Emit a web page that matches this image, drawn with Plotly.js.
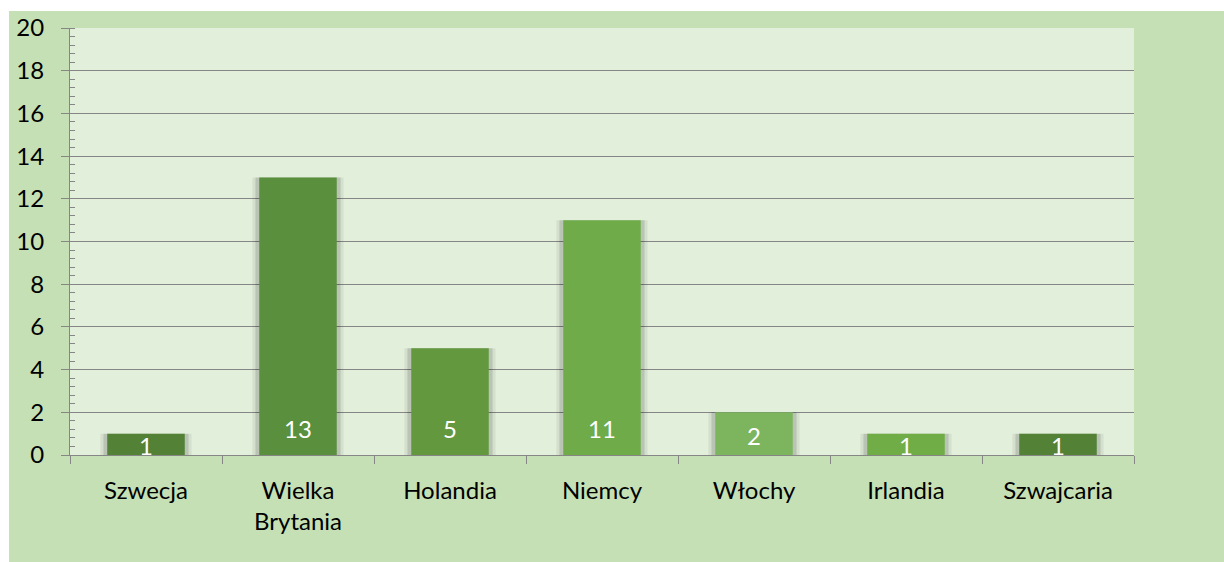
<!DOCTYPE html>
<html>
<head>
<meta charset="utf-8">
<script src="https://cdn.plot.ly/plotly-3.0.1.min.js"></script>
<style>
  html, body { margin: 0; padding: 0; background: #ffffff; }
  #chart { width: 1224px; height: 562px; }
</style>
</head>
<body>
<div id="chart"></div>
<script>
const countries = ["Szwecja", "Wielka<br>Brytania", "Holandia", "Niemcy", "Włochy", "Irlandia", "Szwajcaria"];
const counts = [1, 13, 5, 11, 2, 1, 1];
const barColors = ["#538135", "#5a8f3d", "#64983f", "#6fab49", "#7db45e", "#70ad47", "#538135"];
const yTicks = [0, 2, 4, 6, 8, 10, 12, 14, 16, 18, 20];

const font = "Lato, 'Open Sans', sans-serif";
const axisGray = "#868686";

// soft shadow behind each bar
const shadowOuter = {
    x: countries, y: counts, type: "bar", width: 0.6,
    marker: { color: "rgba(0,0,0,0.06)" }, hoverinfo: "skip"
};
const shadowInner = {
    x: countries, y: counts, type: "bar", width: 0.56,
    marker: { color: "rgba(0,0,0,0.12)" }, hoverinfo: "skip"
};
const bars = {
    x: countries, y: counts, type: "bar", width: 0.51,
    marker: { color: barColors },
    hovertemplate: "%{x}: %{y}<extra></extra>"
};

// labels sit near the bar base, like Excel's "inside base"
const labels = countries.map((c, i) => ({
    x: c, y: 0, xref: "x", yref: "y",
    text: String(counts[i]),
    showarrow: false,
    yanchor: "middle",
    yshift: Math.min(27, counts[i] * 10),
    font: { family: font, size: 24, color: "#ffffff" }
}));

const layout = {
    width: 1224, height: 562,
    margin: { l: 70, r: 90, t: 28, b: 107 },
    paper_bgcolor: "#c5e0b4",
    plot_bgcolor: "#e2efda",
    barmode: "overlay",
    showlegend: false,
    font: { family: font, size: 24, color: "#000000" },
    xaxis: {
        type: "category",
        tickson: "boundaries",
        ticks: "outside", ticklen: 8, tickcolor: axisGray,
        showline: true, linecolor: axisGray, linewidth: 1,
        showgrid: false,
        ticklabelstandoff: 14,
        tickfont: { family: font, size: 24, color: "#000000" }
    },
    yaxis: {
        range: [0, 20],
        tickvals: yTicks,
        ticks: "outside", ticklen: 8, tickcolor: axisGray,
        showline: true, linecolor: axisGray, linewidth: 1,
        showgrid: true, gridcolor: axisGray, gridwidth: 1,
        zeroline: false,
        ticklabelstandoff: 12,
        tickfont: { family: font, size: 24, color: "#000000" },
        minor: { dtick: 0.4, ticks: "inside", ticklen: 5, tickcolor: axisGray, showgrid: false }
    },
    shapes: [
        // white strip along the top and left edge, outside the green chart box
        { type: "rect", xref: "paper", yref: "paper", x0: -0.1, x1: 1.2, y0: 1.04, y1: 1.2,
          fillcolor: "#ffffff", line: { width: 0 }, layer: "below" },
        { type: "rect", xref: "paper", yref: "paper", x0: -0.1, x1: -0.0573, y0: -0.3, y1: 1.2,
          fillcolor: "#ffffff", line: { width: 0 }, layer: "below" }
    ],
    annotations: labels
};

Plotly.newPlot("chart", [shadowOuter, shadowInner, bars], layout, { displayModeBar: false, staticPlot: true });
</script>
</body>
</html>
